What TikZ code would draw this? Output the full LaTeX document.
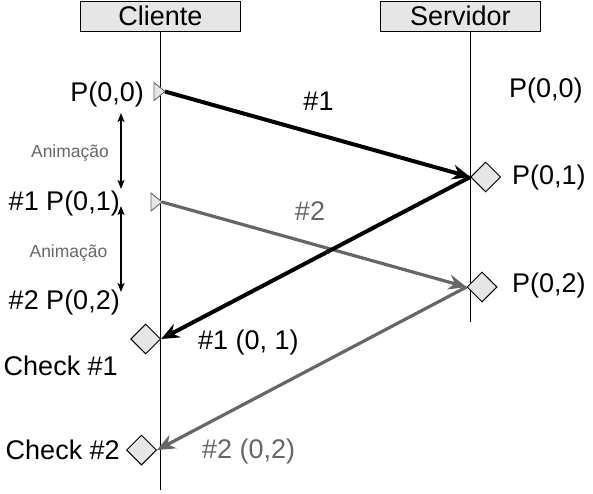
\documentclass[tikz,border=0pt]{standalone}
\usepackage{fontspec}
\setmainfont{Liberation Sans}
\usetikzlibrary{shapes.geometric,arrows.meta,calc}

\definecolor{boxgray}{HTML}{E6E6E6}
\definecolor{msggray}{HTML}{666666}

\begin{document}
\begin{tikzpicture}[x=1pt,y=-1pt,
  head/.style={draw,line width=1pt,fill=boxgray,minimum width=160pt,minimum height=30pt,inner sep=0,font=\fontsize{27}{30}\selectfont},
  lbl/.style={inner sep=0,font=\fontsize{27}{30}\selectfont},
  anim/.style={inner sep=0,text=msggray,font=\fontsize{17.5}{20}\selectfont},
  chk/.style={draw,line width=1pt,fill=boxgray,shape=diamond,minimum width=30pt,minimum height=30pt,inner sep=0},
  tri/.style={draw=msggray,line width=0.9pt,fill=boxgray},
  msg/.style={line width=4pt,-{Stealth[length=18pt,width=15pt,inset=6pt]}},
  msgg/.style={msg,draw=msggray,line width=3.2pt},
  lapse/.style={line width=1.3pt,{Stealth[length=9pt,width=7pt,inset=2pt]}-{Stealth[length=9pt,width=7pt,inset=2pt]}}]

\useasboundingbox (0,0) rectangle (593,493);

\node[head] (cli) at (160.3,16) {Cliente};
\node[head] (srv) at (460.3,16) {Servidor};
\coordinate (cliEnd) at (160.3,490);
\coordinate (srvEnd) at (470.3,322);
\draw[line width=1pt] (cli.south) -- (cliEnd);
\draw[line width=1pt] (srv.south -| srvEnd) -- (srvEnd);

\node[chk] (sA) at (485.7,177) {};
\node[chk] (sB) at (482,287) {};
\node[chk] (cA) at (145.7,339) {};
\node[chk] (cB) at (141.5,450) {};

\coordinate (p0) at (165,91.5);
\coordinate (p1) at (162,202);
\foreach \p in {p0,p1} \draw[tri] ($(\p)+(-11,-9)$) -- (\p) -- ($(\p)+(-11,9)$) -- cycle;

\draw[msgg] (p1) -- (sB.west);
\draw[msgg] (sB.west) -- (cB.east);
\draw[msg] (p0) -- (sA.west);
\draw[msg] (sA.west) -- (cA.east);

\node[lbl,anchor=east] (lP0) at (144,95) {P(0,0)};
\node[lbl,anchor=east] (lP1) at (120,204) {\#1 P(0,1)};
\node[lbl,anchor=east] (lP2) at (120,303) {\#2 P(0,2)};
\node[lbl,anchor=east] (lC1) at (118,366) {Check \#1};
\node[lbl,anchor=east] (lC2) at (120,450) {Check \#2};
\node[lbl,anchor=west] (rP0) at (509,91) {P(0,0)};
\node[lbl,anchor=west] (rP1) at (512,177.5) {P(0,1)};
\node[lbl,anchor=west] (rP2) at (512,286) {P(0,2)};
\node[lbl] (m1) at (318.5,101.5) {\#1};
\node[lbl,text=msggray] (m2) at (310,211.5) {\#2};
\node[lbl,anchor=west] (r1) at (198,343) {\#1 (0, 1)};
\node[lbl,anchor=west,text=msggray] (r2) at (202,452) {\#2 (0,2)};

\node[anim] (an1) at (70,153) {Animação};
\node[anim] (an2) at (68.5,253) {Animação};
\coordinate (a0) at (121,113);
\coordinate (a1) at (121,189);
\coordinate (a2) at (121,206);
\coordinate (a3) at (121,292);
\draw[lapse] (a0) -- (a1);
\draw[lapse] (a2) -- (a3);
\end{tikzpicture}
\end{document}
